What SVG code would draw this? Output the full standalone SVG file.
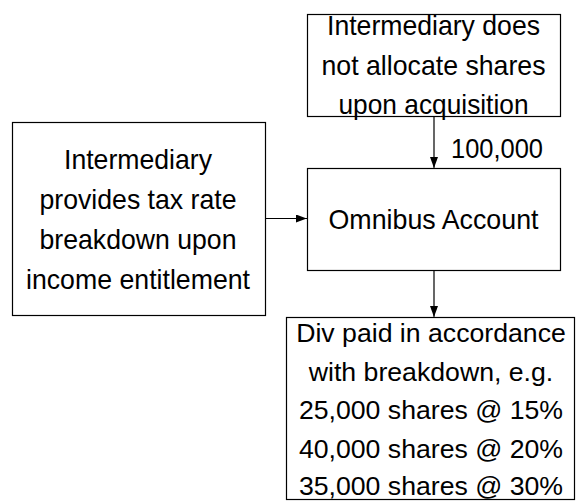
<svg xmlns="http://www.w3.org/2000/svg" width="576" height="502" viewBox="0 0 576 502">
<style>
.box{fill:#fff;stroke:#000;stroke-width:1.2}
.t{font-family:"Liberation Sans",Arial,sans-serif;font-size:28px;fill:#000;text-anchor:middle}
.tb{font-family:"Liberation Sans",Arial,sans-serif;font-size:26.67px;fill:#000;text-anchor:middle}
.lbl{font-family:"Liberation Sans",Arial,sans-serif;font-size:28px;fill:#000}
.c{stroke:#000;stroke-width:1.2;fill:none}
</style>
<defs>
<marker id="ah" markerWidth="10" markerHeight="12" refX="11" refY="4" orient="auto" markerUnits="userSpaceOnUse">
<path d="M0,0 L11,4 L0,8 Z" fill="#000"/>
</marker>
</defs>
<rect width="576" height="502" fill="#fff"/>
<g id="top">
<rect class="box" x="307.5" y="14.5" width="253" height="102"/>
<text class="t" x="433.5" y="35" textLength="213" lengthAdjust="spacingAndGlyphs">Intermediary does</text>
<text class="t" x="433.5" y="75" textLength="224" lengthAdjust="spacingAndGlyphs">not allocate shares</text>
<text class="t" x="433.5" y="114" textLength="190" lengthAdjust="spacingAndGlyphs">upon acquisition</text>
</g>
<g id="left">
<rect class="box" x="12.5" y="122.5" width="253" height="193"/>
<text class="t" x="138" y="169" textLength="148" lengthAdjust="spacingAndGlyphs">Intermediary</text>
<text class="t" x="138" y="209" textLength="197" lengthAdjust="spacingAndGlyphs">provides tax rate</text>
<text class="t" x="138" y="249" textLength="197" lengthAdjust="spacingAndGlyphs">breakdown upon</text>
<text class="t" x="138" y="289" textLength="224" lengthAdjust="spacingAndGlyphs">income entitlement</text>
</g>
<g id="omnibus">
<rect class="box" x="307.5" y="168.5" width="253" height="102"/>
<text class="t" x="433.5" y="229" textLength="210" lengthAdjust="spacingAndGlyphs">Omnibus Account</text>
</g>
<g id="bottom">
<rect class="box" x="286.5" y="317.5" width="288" height="182"/>
<text class="tb" x="431" y="342">Div paid in accordance</text>
<text class="tb" x="431" y="380.5">with breakdown, e.g.</text>
<text class="tb" x="431" y="419">25,000 shares @ 15%</text>
<text class="tb" x="431" y="457.5">40,000 shares @ 20%</text>
<text class="tb" x="431" y="494.5">35,000 shares @ 30%</text>
</g>
<g id="connectors">
<line class="c" x1="434" y1="117" x2="434" y2="168" marker-end="url(#ah)"/>
<text class="lbl" x="451" y="158" textLength="92" lengthAdjust="spacingAndGlyphs">100,000</text>
<line class="c" x1="266" y1="218.5" x2="307" y2="218.5" marker-end="url(#ah)"/>
<line class="c" x1="434" y1="271" x2="434" y2="317" marker-end="url(#ah)"/>
</g>
</svg>
